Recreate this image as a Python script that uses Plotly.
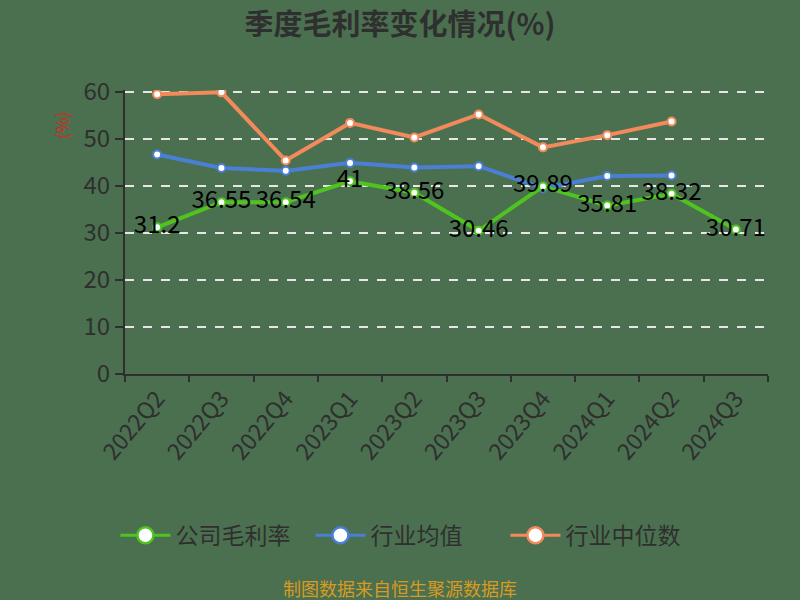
import plotly.graph_objs as go

# quarters on the x axis
quarters = ['2022Q2', '2022Q3', '2022Q4', '2023Q1', '2023Q2',
            '2023Q3', '2023Q4', '2024Q1', '2024Q2', '2024Q3']

# gross margin series (%)
company_margin = [31.2, 36.55, 36.54, 41, 38.56, 30.46, 39.89, 35.81, 38.32, 30.71]
industry_mean = [46.7, 43.8, 43.2, 44.9, 43.9, 44.2, 39.5, 42.1, 42.2, None]
industry_median = [59.5, 59.9, 45.4, 53.4, 50.3, 55.2, 48.2, 50.8, 53.7, None]

series_names = ['公司毛利率', '行业均值', '行业中位数']
series_colors = ['#4fc41f', '#4a7fd6', '#f28a5c']

FONT = 'Noto Sans CJK SC, sans-serif'
BG = '#4b7050'
TXT = '#2f2f2f'

fig = go.Figure()

# lines first (median, mean), company last so its labels sit on top
for values, name, color in [(industry_median, series_names[2], series_colors[2]),
                            (industry_mean, series_names[1], series_colors[1])]:
    fig.add_trace(
        go.Scatter(
            x = quarters,
            y = values,
            mode = 'lines+markers',
            name = name,
            showlegend = False,
            line = dict(color = color, width = 4),
            marker = dict(size = 8, color = 'white', line = dict(color = color, width = 2))
        )
    )

fig.add_trace(
    go.Scatter(
        x = quarters,
        y = company_margin,
        mode = 'lines+markers+text',
        name = series_names[0],
        showlegend = False,
        text = [str(v) for v in company_margin],
        textposition = 'middle center',
        textfont = dict(family = FONT, size = 24, color = '#000000'),
        line = dict(color = series_colors[0], width = 4),
        marker = dict(size = 8, color = 'white', line = dict(color = series_colors[0], width = 2))
    )
)

# legend entries with bigger symbols
for name, color in zip(series_names, series_colors):
    fig.add_trace(
        go.Scatter(
            x = [None],
            y = [None],
            mode = 'lines+markers',
            name = name,
            line = dict(color = color, width = 3),
            marker = dict(size = 20, color = 'white', line = dict(color = color, width = 2.5))
        )
    )

fig.update_layout(
    width = 800,
    height = 600,
    paper_bgcolor = BG,
    plot_bgcolor = BG,
    margin = dict(l = 125, r = 32, t = 90, b = 226),
    font = dict(family = FONT, color = TXT),
    title = dict(
        text = '<b>季度毛利率变化情况(%)</b>',
        x = 0.5, xanchor = 'center',
        y = 0.958, yanchor = 'middle',
        font = dict(family = FONT, size = 29, color = TXT)
    ),
    xaxis = dict(
        type = 'category',
        range = [-0.5, 9.5],
        tickson = 'boundaries',
        ticks = 'outside',
        ticklen = 6,
        tickwidth = 2,
        tickcolor = TXT,
        tickangle = -50,
        tickfont = dict(family = FONT, size = 23, color = TXT),
        showline = True,
        linecolor = TXT,
        linewidth = 2,
        showgrid = False,
        zeroline = False
    ),
    yaxis = dict(
        range = [0, 60.4],
        dtick = 10,
        ticks = 'outside',
        ticklen = 8,
        tickwidth = 2,
        tickcolor = TXT,
        tickfont = dict(family = FONT, size = 24, color = TXT),
        showline = True,
        linecolor = TXT,
        linewidth = 2,
        showgrid = True,
        gridcolor = '#e6e6e6',
        griddash = 'dash',
        gridwidth = 1.5,
        zeroline = False
    ),
    legend = dict(
        orientation = 'h',
        x = 0.44, xanchor = 'center',
        y = -0.568, yanchor = 'middle',
        font = dict(family = FONT, size = 23, color = TXT),
        bgcolor = 'rgba(0,0,0,0)',
        traceorder = 'normal',
        itemwidth = 50,
        entrywidth = 130,
        entrywidthmode = 'pixels'
    ),
    annotations = [
        dict(
            text = '(%)', xref = 'paper', yref = 'paper',
            x = -0.098, y = 0.877, xanchor = 'center', yanchor = 'middle',
            showarrow = False, textangle = -90,
            font = dict(family = FONT, size = 17, color = '#d42a1c')
        ),
        dict(
            text = '制图数据来自恒生聚源数据库', xref = 'paper', yref = 'paper',
            x = 0.428, y = -0.755, xanchor = 'center', yanchor = 'middle', showarrow = False,
            font = dict(family = FONT, size = 18, color = '#d89a20')
        )
    ]
)

fig.write_html("out.html", config = {'displayModeBar': False},
               post_script = "document.body.style.margin='0';document.body.style.background='" + BG + "';")
